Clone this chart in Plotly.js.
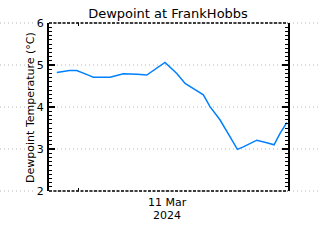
<!DOCTYPE html>
<html>
<head>
<meta charset="utf-8">
<script src="https://cdn.plot.ly/plotly-3.0.1.min.js"></script>
<style>html,body{margin:0;padding:0;background:#fff}#chart{width:320px;height:240px}</style>
</head>
<body>
<div id="chart"></div>
<script>
const times = [
  '2024-03-10 21:52','2024-03-10 22:28','2024-03-10 23:08','2024-03-10 23:52',
  '2024-03-11 00:22','2024-03-11 01:02','2024-03-11 01:32','2024-03-11 03:13',
  '2024-03-11 03:53','2024-03-11 04:33','2024-03-11 05:57','2024-03-11 06:54',
  '2024-03-11 08:44','2024-03-11 09:55','2024-03-11 10:45','2024-03-11 11:55',
  '2024-03-11 12:35','2024-03-11 13:15','2024-03-11 14:16','2024-03-11 15:16',
  '2024-03-11 16:00','2024-03-11 16:36','2024-03-11 17:57','2024-03-11 18:57',
  '2024-03-11 19:41','2024-03-11 20:17','2024-03-11 20:58'
];
const dewpoint = [
  4.82, 4.84, 4.87, 4.87,
  4.83, 4.76, 4.71, 4.71,
  4.75, 4.79, 4.78, 4.76,
  5.06, 4.80, 4.56, 4.40,
  4.29, 4.01, 3.69, 3.29,
  2.99, 3.05, 3.21, 3.15,
  3.10, 3.37, 3.63
];
const yTicks = [2, 3, 4, 5, 6];
const xRange = ['2024-03-10 21:05', '2024-03-11 21:05'];
const yRange = [2, 6];
const xTick = ['2024-03-11 00:00'];
const dateLabel = ['11 Mar', '2024'];
const yTitle = 'Dewpoint Temperature (°C)';

const gridColor = '#b4b4b4';
const shapes = [];
yTicks.forEach(v => {
  const yp = (v - yRange[0]) / (yRange[1] - yRange[0]);
  shapes.push({type:'line', xref:'paper', yref:'paper', x0:-0.205, x1:-0.06, y0:yp, y1:yp,
    line:{color:gridColor, width:1, dash:'1px,3px'}, layer:'below'});
  shapes.push({type:'line', xref:'paper', yref:'paper', x0:0, x1:1.14, y0:yp, y1:yp,
    line:{color:gridColor, width:1, dash:'1px,3px'}, layer:'below'});
});
[0, 1].forEach(yp => {
  shapes.push({type:'line', xref:'paper', yref:'paper', x0:0, x1:1, y0:yp, y1:yp,
    line:{color:'#000', width:1.5, dash:'3px,1.5px'}});
});

const annotations = [
  {text:dateLabel[0], xref:'paper', yref:'paper', x:0.495, y:-0.07, xanchor:'center', yanchor:'middle',
    showarrow:false, font:{size:11}},
  {text:dateLabel[1], xref:'paper', yref:'paper', x:0.495, y:-0.145, xanchor:'center', yanchor:'middle',
    showarrow:false, font:{size:11}},
  {text:yTitle, xref:'paper', yref:'paper', x:-0.08, y:0.5, xanchor:'center', yanchor:'middle',
    textangle:-90, showarrow:false, font:{size:11}}
];

const trace = {
  x: times, y: dewpoint, type:'scatter', mode:'lines',
  line:{color:'rgb(0,128,255)', width:1.5}, hoverinfo:'skip'
};

const layout = {
  width:320, height:240,
  margin:{l:49, r:32, t:23, b:49},
  paper_bgcolor:'#fff', plot_bgcolor:'rgba(0,0,0,0)',
  font:{family:'DejaVu Sans, sans-serif', color:'#000', size:11},
  showlegend:false,
  title:{text:'Dewpoint at FrankHobbs', x:0.525, xanchor:'center', yref:'container', y:0.942, yanchor:'middle',
    font:{size:13, family:'DejaVu Sans, sans-serif'}},
  xaxis:{type:'date', range:xRange, tickvals:xTick, ticktext:[''],
    ticks:'inside', ticklen:3, tickwidth:1, tickcolor:'#000', mirror:'ticks',
    showline:false, showgrid:false, zeroline:false, automargin:false},
  yaxis:{range:yRange, tickvals:yTicks, ticks:'inside', ticklen:6, tickwidth:1.5,
    tickcolor:'#000', showline:true, linecolor:'#000', linewidth:2, mirror:'ticks',
    showgrid:false, zeroline:false, ticklabelstandoff:1, automargin:false,
    minor:{dtick:0.1, ticks:'inside', ticklen:3, tickwidth:1, tickcolor:'#000', showgrid:false}},
  shapes: shapes,
  annotations: annotations
};

Plotly.newPlot('chart', [trace], layout, {staticPlot:true, displayModeBar:false});
</script>
</body>
</html>
